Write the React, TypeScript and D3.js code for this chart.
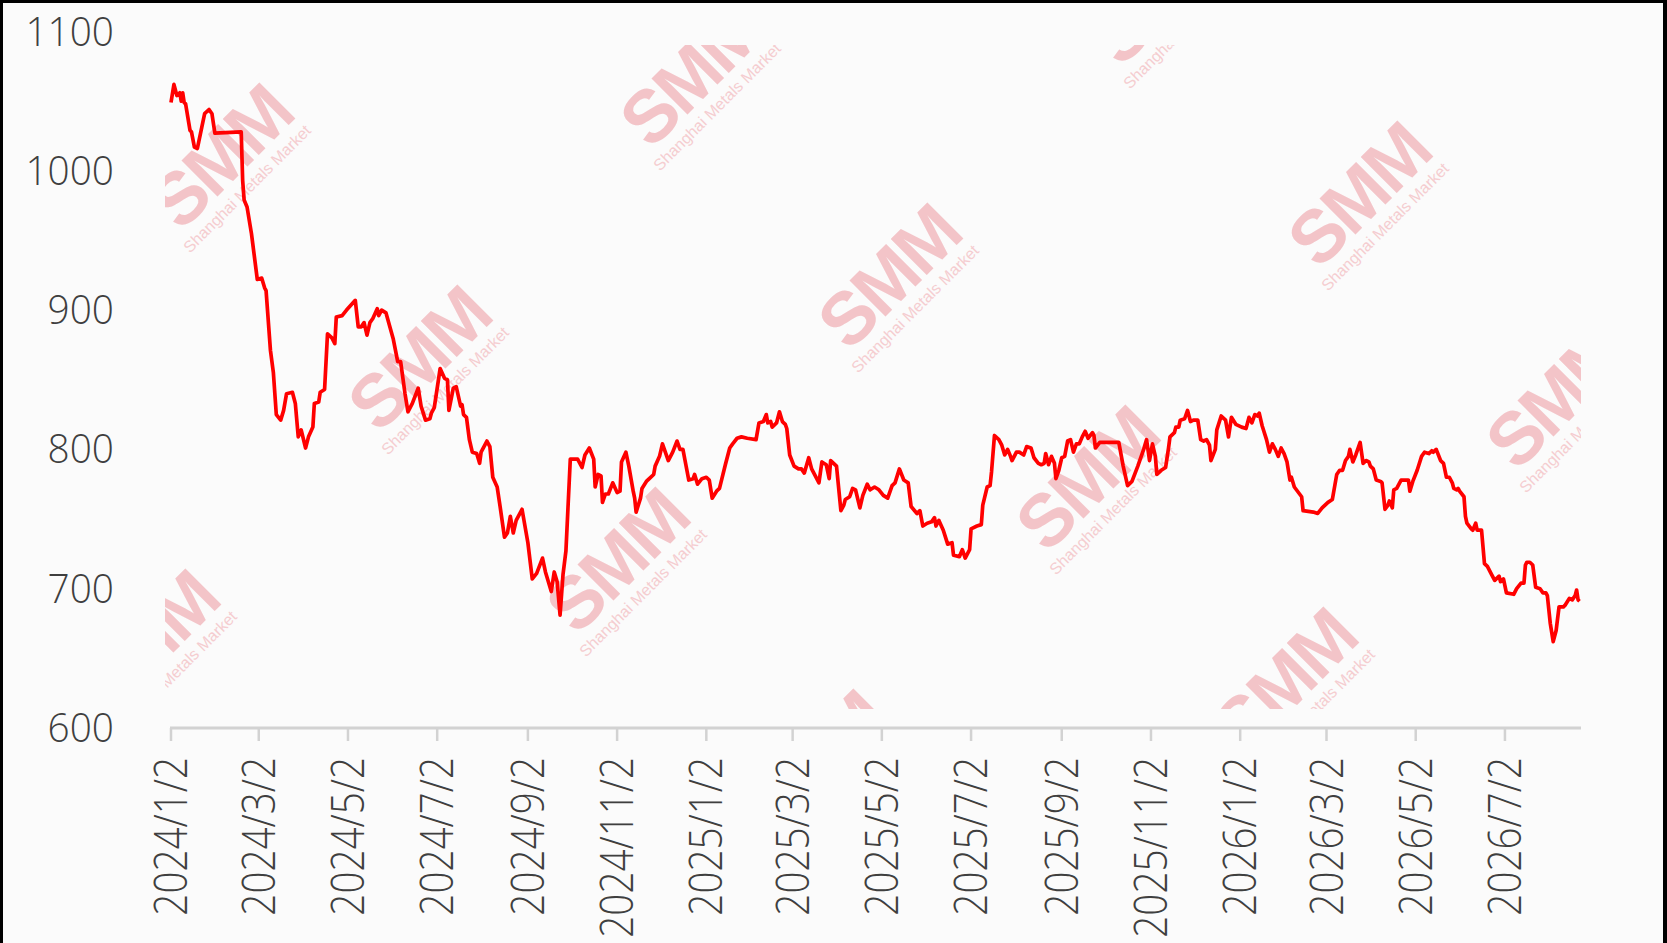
import React, { useRef, useEffect } from 'react';
import * as d3 from 'd3';

// price series, split by year
const price2024: [string, number][] = [
  ['2024-01-02', 1049], ['2024-01-04', 1062], ['2024-01-06', 1054], ['2024-01-08', 1056], ['2024-01-09', 1050],
  ['2024-01-10', 1056], ['2024-01-11', 1049], ['2024-01-12', 1048], ['2024-01-15', 1029], ['2024-01-16', 1028],
  ['2024-01-18', 1017], ['2024-01-20', 1016], ['2024-01-21', 1021], ['2024-01-23', 1031], ['2024-01-25', 1041],
  ['2024-01-28', 1044], ['2024-01-30', 1041], ['2024-01-31', 1034], ['2024-02-01', 1027], ['2024-02-19', 1028],
  ['2024-02-20', 993], ['2024-02-21', 979], ['2024-02-23', 974], ['2024-02-26', 955], ['2024-03-01', 922],
  ['2024-03-04', 923], ['2024-03-06', 916], ['2024-03-07', 914], ['2024-03-10', 871], ['2024-03-12', 855],
  ['2024-03-14', 825], ['2024-03-17', 821], ['2024-03-19', 828], ['2024-03-21', 840], ['2024-03-25', 841],
  ['2024-03-27', 833], ['2024-03-29', 809], ['2024-03-31', 814], ['2024-04-03', 801], ['2024-04-05', 809],
  ['2024-04-08', 816], ['2024-04-09', 833], ['2024-04-12', 834], ['2024-04-13', 841], ['2024-04-16', 843],
  ['2024-04-18', 883], ['2024-04-21', 880], ['2024-04-23', 876], ['2024-04-24', 895], ['2024-04-28', 896],
  ['2024-05-01', 900], ['2024-05-07', 907], ['2024-05-09', 888], ['2024-05-11', 888], ['2024-05-13', 891],
  ['2024-05-15', 882], ['2024-05-17', 891], ['2024-05-19', 894], ['2024-05-22', 901], ['2024-05-23', 896],
  ['2024-05-25', 900], ['2024-05-28', 898], ['2024-06-02', 879], ['2024-06-05', 863], ['2024-06-07', 863],
  ['2024-06-10', 840], ['2024-06-12', 827], ['2024-06-15', 833], ['2024-06-19', 844], ['2024-06-21', 831],
  ['2024-06-24', 821], ['2024-06-27', 822], ['2024-06-28', 826], ['2024-06-30', 830], ['2024-07-04', 858],
  ['2024-07-07', 851], ['2024-07-09', 850], ['2024-07-10', 828], ['2024-07-13', 844], ['2024-07-15', 845],
  ['2024-07-18', 831], ['2024-07-19', 832], ['2024-07-20', 825], ['2024-07-22', 823], ['2024-07-24', 807],
  ['2024-07-26', 798], ['2024-07-29', 797], ['2024-07-31', 790], ['2024-08-01', 798], ['2024-08-05', 806],
  ['2024-08-07', 802], ['2024-08-09', 780], ['2024-08-12', 773], ['2024-08-14', 759], ['2024-08-17', 737],
  ['2024-08-19', 740], ['2024-08-21', 752], ['2024-08-23', 740], ['2024-08-25', 749], ['2024-08-29', 757],
  ['2024-09-02', 733], ['2024-09-05', 707], ['2024-09-08', 711], ['2024-09-12', 722], ['2024-09-14', 712],
  ['2024-09-18', 698], ['2024-09-20', 712], ['2024-09-22', 705], ['2024-09-24', 681], ['2024-09-26', 710],
  ['2024-09-28', 727], ['2024-10-01', 793], ['2024-10-06', 793], ['2024-10-09', 787], ['2024-10-11', 796],
  ['2024-10-14', 801], ['2024-10-17', 793], ['2024-10-18', 773], ['2024-10-20', 782], ['2024-10-22', 781],
  ['2024-10-23', 762], ['2024-10-25', 768], ['2024-10-27', 768], ['2024-10-30', 776], ['2024-11-02', 769],
  ['2024-11-04', 770], ['2024-11-05', 791], ['2024-11-08', 798], ['2024-11-10', 788], ['2024-11-13', 770],
  ['2024-11-14', 765], ['2024-11-15', 755], ['2024-11-18', 765], ['2024-11-19', 772], ['2024-11-22', 777],
  ['2024-11-24', 779], ['2024-11-27', 782], ['2024-11-28', 788], ['2024-12-01', 795], ['2024-12-03', 804],
  ['2024-12-07', 792], ['2024-12-10', 798], ['2024-12-13', 806], ['2024-12-15', 800], ['2024-12-17', 800],
  ['2024-12-19', 789], ['2024-12-21', 778], ['2024-12-24', 779], ['2024-12-25', 782], ['2024-12-27', 775],
  ['2024-12-30', 779],
];

const price2025: [string, number][] = [
  ['2025-01-02', 780], ['2025-01-04', 778], ['2025-01-06', 765], ['2025-01-09', 770], ['2025-01-11', 772],
  ['2025-01-15', 789], ['2025-01-18', 801], ['2025-01-20', 804], ['2025-01-23', 808], ['2025-01-26', 809],
  ['2025-01-30', 808], ['2025-02-05', 807], ['2025-02-07', 819], ['2025-02-10', 820], ['2025-02-12', 825],
  ['2025-02-13', 819], ['2025-02-15', 820], ['2025-02-16', 816], ['2025-02-19', 819], ['2025-02-21', 827],
  ['2025-02-23', 820], ['2025-02-25', 818], ['2025-02-26', 815], ['2025-02-28', 796], ['2025-03-03', 788],
  ['2025-03-06', 786], ['2025-03-08', 786], ['2025-03-10', 783], ['2025-03-13', 794], ['2025-03-15', 786],
  ['2025-03-20', 776], ['2025-03-22', 791], ['2025-03-25', 789], ['2025-03-27', 779], ['2025-03-28', 792],
  ['2025-03-30', 790], ['2025-04-01', 788], ['2025-04-04', 756], ['2025-04-06', 760], ['2025-04-07', 764],
  ['2025-04-10', 766], ['2025-04-12', 772], ['2025-04-14', 771], ['2025-04-17', 758], ['2025-04-19', 767],
  ['2025-04-22', 775], ['2025-04-24', 771], ['2025-04-27', 773], ['2025-04-30', 771], ['2025-05-03', 767],
  ['2025-05-06', 765], ['2025-05-09', 774], ['2025-05-11', 776], ['2025-05-14', 786], ['2025-05-17', 778],
  ['2025-05-20', 776], ['2025-05-22', 759], ['2025-05-26', 754], ['2025-05-28', 756], ['2025-05-30', 745],
  ['2025-06-02', 747], ['2025-06-05', 748], ['2025-06-07', 751], ['2025-06-08', 745], ['2025-06-10', 749],
  ['2025-06-13', 742], ['2025-06-16', 732], ['2025-06-19', 733], ['2025-06-20', 724], ['2025-06-24', 723],
  ['2025-06-26', 728], ['2025-06-28', 722], ['2025-07-01', 728], ['2025-07-02', 743], ['2025-07-06', 745],
  ['2025-07-09', 746], ['2025-07-10', 760], ['2025-07-13', 773], ['2025-07-15', 774], ['2025-07-16', 784],
  ['2025-07-18', 810], ['2025-07-21', 807], ['2025-07-23', 803], ['2025-07-25', 796], ['2025-07-27', 800],
  ['2025-07-29', 795], ['2025-07-30', 792], ['2025-08-02', 798], ['2025-08-04', 798], ['2025-08-07', 796],
  ['2025-08-09', 802], ['2025-08-12', 801], ['2025-08-14', 794], ['2025-08-17', 790], ['2025-08-19', 789],
  ['2025-08-21', 790], ['2025-08-22', 797], ['2025-08-24', 789], ['2025-08-26', 795], ['2025-08-28', 790],
  ['2025-08-29', 779], ['2025-08-31', 785], ['2025-09-02', 794], ['2025-09-04', 795], ['2025-09-06', 806],
  ['2025-09-08', 807], ['2025-09-10', 798], ['2025-09-12', 804], ['2025-09-14', 804], ['2025-09-16', 809],
  ['2025-09-18', 813], ['2025-09-20', 808], ['2025-09-23', 812], ['2025-09-24', 810], ['2025-09-25', 801],
  ['2025-09-28', 805], ['2025-10-11', 805], ['2025-10-14', 788], ['2025-10-17', 774], ['2025-10-20', 777],
  ['2025-10-24', 788], ['2025-10-28', 800], ['2025-10-30', 807], ['2025-11-01', 792], ['2025-11-03', 804],
  ['2025-11-05', 795], ['2025-11-06', 782], ['2025-11-09', 785], ['2025-11-12', 787], ['2025-11-14', 801],
  ['2025-11-15', 809], ['2025-11-18', 812], ['2025-11-19', 816], ['2025-11-21', 816], ['2025-11-22', 821],
  ['2025-11-25', 822], ['2025-11-27', 828], ['2025-11-29', 820], ['2025-12-01', 821], ['2025-12-04', 821],
  ['2025-12-06', 807], ['2025-12-08', 806], ['2025-12-10', 807], ['2025-12-12', 803], ['2025-12-13', 792],
  ['2025-12-16', 800], ['2025-12-17', 814], ['2025-12-20', 824], ['2025-12-23', 821], ['2025-12-25', 809],
  ['2025-12-27', 823], ['2025-12-30', 818],
];

const price2026: [string, number][] = [
  ['2026-01-03', 816], ['2026-01-06', 815], ['2026-01-08', 823], ['2026-01-10', 819], ['2026-01-12', 825],
  ['2026-01-14', 824], ['2026-01-15', 826], ['2026-01-17', 817], ['2026-01-20', 807], ['2026-01-22', 798],
  ['2026-01-24', 804], ['2026-01-26', 800], ['2026-01-28', 795], ['2026-01-30', 801], ['2026-02-01', 797],
  ['2026-02-03', 791], ['2026-02-05', 778], ['2026-02-06', 780], ['2026-02-08', 773], ['2026-02-13', 766],
  ['2026-02-14', 756], ['2026-02-21', 755], ['2026-02-24', 754], ['2026-02-27', 758], ['2026-03-03', 762],
  ['2026-03-06', 764], ['2026-03-09', 782], ['2026-03-11', 785], ['2026-03-13', 785], ['2026-03-15', 792],
  ['2026-03-17', 795], ['2026-03-18', 800], ['2026-03-20', 791], ['2026-03-22', 796], ['2026-03-25', 805],
  ['2026-03-27', 790], ['2026-03-29', 792], ['2026-03-31', 791], ['2026-04-01', 788], ['2026-04-03', 786],
  ['2026-04-05', 778], ['2026-04-08', 777], ['2026-04-09', 776], ['2026-04-11', 757], ['2026-04-13', 760],
  ['2026-04-14', 763], ['2026-04-16', 758], ['2026-04-17', 771], ['2026-04-19', 772], ['2026-04-22', 778],
  ['2026-04-25', 778], ['2026-04-27', 778], ['2026-04-28', 770], ['2026-04-30', 777], ['2026-05-03', 785],
  ['2026-05-06', 795], ['2026-05-08', 798], ['2026-05-11', 797], ['2026-05-13', 799], ['2026-05-14', 798],
  ['2026-05-16', 800], ['2026-05-19', 792], ['2026-05-21', 790], ['2026-05-23', 780], ['2026-05-25', 780],
  ['2026-05-27', 776], ['2026-05-28', 772], ['2026-05-30', 771], ['2026-05-31', 772], ['2026-06-01', 770],
  ['2026-06-04', 766], ['2026-06-05', 752], ['2026-06-06', 747], ['2026-06-09', 743], ['2026-06-10', 742],
  ['2026-06-12', 747], ['2026-06-13', 742], ['2026-06-16', 742], ['2026-06-18', 718], ['2026-06-20', 716],
  ['2026-06-23', 710], ['2026-06-25', 706], ['2026-06-28', 709], ['2026-06-29', 705], ['2026-07-01', 707],
  ['2026-07-03', 697], ['2026-07-08', 696], ['2026-07-10', 700], ['2026-07-13', 704], ['2026-07-15', 704],
  ['2026-07-16', 717], ['2026-07-17', 719], ['2026-07-19', 719], ['2026-07-21', 717], ['2026-07-23', 701],
  ['2026-07-26', 700], ['2026-07-28', 697], ['2026-07-30', 697], ['2026-07-31', 695], ['2026-08-02', 675],
  ['2026-08-04', 662], ['2026-08-06', 670], ['2026-08-08', 687], ['2026-08-11', 687], ['2026-08-12', 688],
  ['2026-08-15', 693], ['2026-08-17', 692], ['2026-08-19', 695], ['2026-08-20', 699], ['2026-08-21', 692],
  ['2026-08-22', 691],
];

const xTickLabels = [
  '2024/1/2', '2024/3/2', '2024/5/2', '2024/7/2', '2024/9/2', '2024/11/2',
  '2025/1/2', '2025/3/2', '2025/5/2', '2025/7/2', '2025/9/2', '2025/11/2',
  '2026/1/2', '2026/3/2', '2026/5/2', '2026/7/2',
];
const yTicks = [600, 700, 800, 900, 1000, 1100];
const axisStart = '2024-01-02';
const axisEnd = '2026-08-23';

const parseDay = d3.timeParse('%Y-%m-%d');
const parseTick = (s: string) => {
  const [y, m, d] = s.split('/').map(Number);
  return new Date(y, m - 1, d);
};

export default function App() {
  const width = 1667;
  const height = 943;
  const svgRef = useRef<SVGSVGElement>(null);

  useEffect(() => {
    if (!svgRef.current) return;
    const svg = d3.select(svgRef.current);
    svg.selectAll('*').remove();

    const labelFont = "'Open Sans', 'Noto Sans', sans-serif";
    const textColor = '#3f3f3f';

    const x = d3.scaleTime()
      .domain([parseDay(axisStart) as Date, parseDay(axisEnd) as Date])
      .range([171, 1581]);
    const y = d3.scaleLinear().domain([600, 1100]).range([728, 31.5]);

    // frame + background
    svg.append('rect').attr('width', width).attr('height', height).attr('fill', '#000');
    svg.append('rect').attr('x', 3).attr('y', 3).attr('width', 1660).attr('height', height - 3).attr('fill', '#fbfbfb');

    // watermarks, clipped to the plot area
    svg.append('clipPath').attr('id', 'plotClip')
      .append('rect').attr('x', 165).attr('y', 45).attr('width', 1416).attr('height', 664);
    const wm = svg.append('g').attr('clip-path', 'url(#plotClip)');
    const origin = [420, 360];
    const stepA = [470, -82];
    const stepB = [198, 202];
    for (let i = -2; i <= 3; i++) {
      for (let j = -2; j <= 3; j++) {
        const cx = origin[0] + i * stepA[0] + j * stepB[0];
        const cy = origin[1] + i * stepA[1] + j * stepB[1];
        if (cx < 40 || cx > 1720 || cy < -80 || cy > 800) continue;
        const g = wm.append('g').attr('transform', `translate(${cx},${cy}) rotate(-45)`);
        g.append('text')
          .attr('text-anchor', 'middle')
          .attr('y', 24)
          .attr('font-family', "'Liberation Sans', Arial, sans-serif")
          .attr('font-weight', 700)
          .attr('font-size', 74)
          .attr('letter-spacing', -3)
          .attr('fill', '#f3c4c8')
          .text('SMM');
        g.append('text')
          .attr('text-anchor', 'middle')
          .attr('x', -4)
          .attr('y', 45)
          .attr('font-family', "'Liberation Sans', Arial, sans-serif")
          .attr('font-size', 16)
          .attr('fill', '#f5cdd0')
          .text('Shanghai Metals Market');
      }
    }

    // y labels
    svg.append('g')
      .selectAll('g')
      .data(yTicks)
      .enter()
      .append('g')
      .attr('transform', (d) => `translate(114,${y(d)}) scale(0.97,1)`)
      .append('text')
      .attr('text-anchor', 'end')
      .attr('dy', '0.35em')
      .attr('font-family', labelFont)
      .attr('font-weight', 300)
      .attr('font-size', 40)
      .attr('fill', textColor)
      .text((d) => d);

    // x axis line and ticks
    const tickDates = xTickLabels.map(parseTick);
    svg.append('line')
      .attr('x1', x(parseDay(axisStart) as Date) - 1).attr('x2', x(parseDay(axisEnd) as Date))
      .attr('y1', 728).attr('y2', 728)
      .attr('stroke', '#d2d2d2').attr('stroke-width', 3);
    svg.append('g')
      .selectAll('line')
      .data(tickDates)
      .enter()
      .append('line')
      .attr('x1', (d) => x(d)).attr('x2', (d) => x(d))
      .attr('y1', 728).attr('y2', 741)
      .attr('stroke', '#d2d2d2').attr('stroke-width', 2.5);

    svg.append('g')
      .selectAll('g')
      .data(xTickLabels)
      .enter()
      .append('g')
      .attr('transform', (d) => `translate(${x(parseTick(d))},757) rotate(-90) scale(0.84,1)`)
      .append('text')
      .attr('text-anchor', 'end')
      .attr('dy', '0.35em')
      .attr('font-family', labelFont)
      .attr('font-weight', 300)
      .attr('font-size', 46)
      .attr('fill', textColor)
      .text((d) => d);

    // price line
    const series = [...price2024, ...price2025, ...price2026].map(([d, v]) => ({
      date: parseDay(d) as Date,
      value: v,
    }));
    const line = d3.line<{ date: Date; value: number }>()
      .x((d) => x(d.date))
      .y((d) => y(d.value));
    svg.append('path')
      .datum(series)
      .attr('d', line)
      .attr('fill', 'none')
      .attr('stroke', '#ff0000')
      .attr('stroke-width', 3.7)
      .attr('stroke-linejoin', 'round');
  }, []);

  return (
    <div style={{ position: 'absolute', left: 0, top: 0 }}>
      <svg ref={svgRef} width={width} height={height} style={{ display: 'block' }} />
    </div>
  );
}
